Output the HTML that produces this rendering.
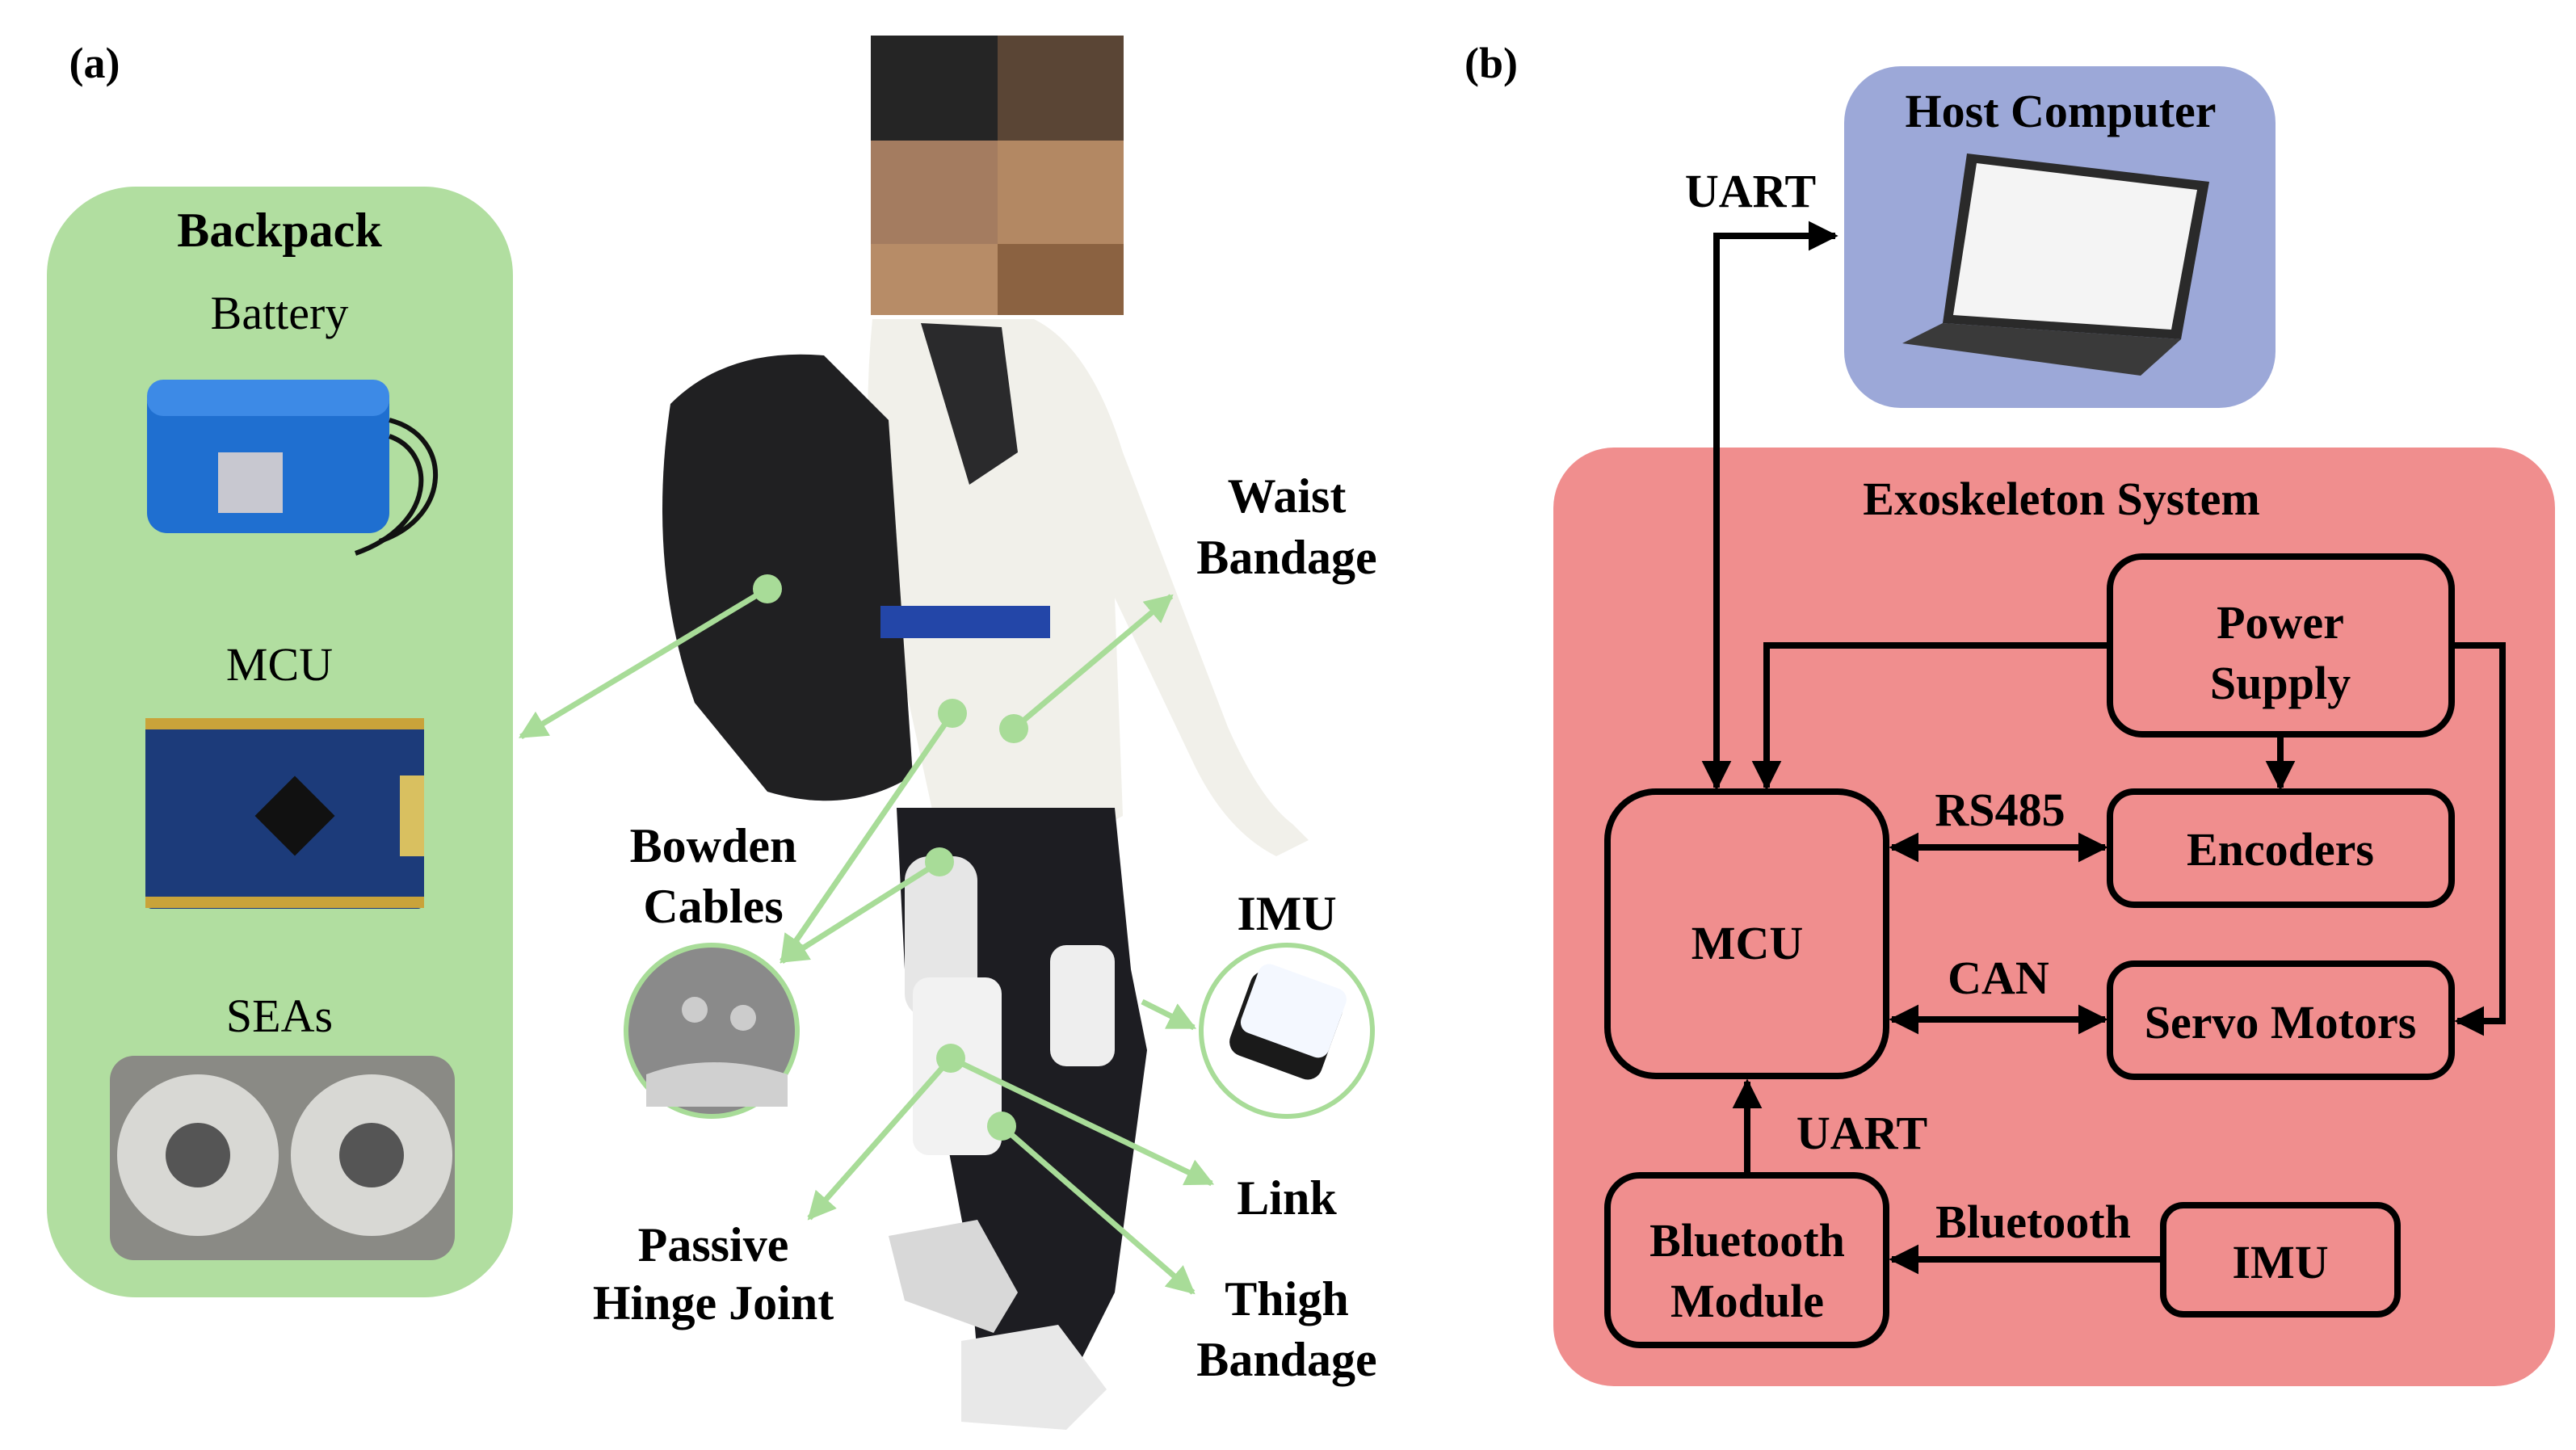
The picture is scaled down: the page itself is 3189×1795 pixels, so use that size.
<!DOCTYPE html>
<html><head><meta charset="utf-8"><style>
html,body{margin:0;padding:0;background:#fff;}
svg{display:block;}
text{font-family:"Liberation Serif",serif;fill:#000;}
.b{font-weight:bold;}
</style></head><body>
<svg width="3189" height="1795" viewBox="0 0 3189 1795" xmlns="http://www.w3.org/2000/svg">
<defs>
<marker id="ah" viewBox="0 0 10 10" refX="9" refY="5" markerWidth="4.6" markerHeight="4.6" orient="auto-start-reverse"><path d="M0,0 L10,5 L0,10 z" fill="#000"/></marker>
<marker id="gh" viewBox="0 0 10 10" refX="9" refY="5" markerWidth="5" markerHeight="5" orient="auto"><path d="M0,0 L10,5 L0,10 z" fill="#a8dc98"/></marker>
</defs>
<text x="117" y="96" class="b" font-size="54" text-anchor="middle">(a)</text>
<text x="1846" y="96" class="b" font-size="54" text-anchor="middle">(b)</text>

<!-- left green panel -->
<rect x="58" y="231" width="577" height="1375" rx="110" fill="#b1dea0"/>
<text x="346" y="305" class="b" font-size="60" text-anchor="middle">Backpack</text>
<text x="346" y="407" font-size="58" text-anchor="middle">Battery</text>
<text x="346" y="842" font-size="58" text-anchor="middle">MCU</text>
<text x="346" y="1277" font-size="58" text-anchor="middle">SEAs</text>
<!-- battery -->
<rect x="182" y="470" width="300" height="190" rx="25" fill="#1f6fd0"/>
<rect x="182" y="470" width="300" height="45" rx="20" fill="#3d8ae6"/>
<rect x="270" y="560" width="80" height="75" fill="#c8c8d0"/>
<path d="M482,520 C560,540 560,640 470,670" stroke="#111" stroke-width="6" fill="none"/>
<path d="M482,540 C540,560 540,650 440,685" stroke="#111" stroke-width="6" fill="none"/>
<!-- MCU board -->
<rect x="180" y="889" width="345" height="236" rx="8" fill="#1c3b7a"/>
<rect x="330" y="975" width="70" height="70" fill="#111" transform="rotate(45 365 1010)"/>
<rect x="180" y="889" width="345" height="14" fill="#c9a33a"/>
<rect x="180" y="1110" width="345" height="14" fill="#c9a33a"/>
<rect x="495" y="960" width="30" height="100" fill="#d9c060"/>
<!-- SEAs -->
<rect x="136" y="1307" width="427" height="253" rx="30" fill="#8a8a85"/>
<circle cx="245" cy="1430" r="100" fill="#d8d8d4"/><circle cx="245" cy="1430" r="40" fill="#555"/>
<circle cx="460" cy="1430" r="100" fill="#d8d8d4"/><circle cx="460" cy="1430" r="40" fill="#555"/>

<!-- face blur -->
<rect x="1078" y="44" width="157" height="130" fill="#252525"/>
<rect x="1235" y="44" width="156" height="130" fill="#5a4535"/>
<rect x="1078" y="174" width="157" height="128" fill="#a47c60"/>
<rect x="1235" y="174" width="156" height="128" fill="#b38863"/>
<rect x="1078" y="302" width="157" height="88" fill="#b78c67"/>
<rect x="1235" y="302" width="156" height="88" fill="#8b6241"/>
<!-- person rough -->
<path d="M1080,395 L1280,395 Q1350,430 1390,560 L1520,900 Q1560,990 1600,1020 L1620,1040 L1580,1060 Q1520,1030 1480,950 L1380,740 L1390,1010 Q1300,1060 1160,1030 L1110,800 Q1060,600 1080,395 Z" fill="#f1f0ea"/>
<path d="M1110,1000 L1380,1000 L1400,1200 L1420,1300 L1380,1600 L1340,1680 L1210,1680 L1200,1560 L1170,1400 L1120,1200 Z" fill="#1d1d22"/>
<path d="M1190,1660 L1310,1640 L1370,1720 L1320,1770 L1190,1760 Z" fill="#e8e8e8"/>
<path d="M1100,1530 L1210,1510 L1260,1600 L1230,1650 L1120,1610 Z" fill="#d8d8d8"/>
<path d="M830,500 Q900,430 1020,440 L1100,520 L1130,960 Q1050,1010 950,980 L860,870 Q800,700 830,500 Z" fill="#202022"/>
<path d="M1140,400 L1240,405 L1260,560 L1200,600 Z" fill="#2a2a2c"/>
<rect x="1090" y="750" width="210" height="40" fill="#2346a8"/>
<rect x="1120" y="1060" width="90" height="200" rx="30" fill="#e6e6e6"/>
<rect x="1130" y="1210" width="110" height="220" rx="20" fill="#f2f2f2"/>
<rect x="1300" y="1170" width="80" height="150" rx="20" fill="#eee"/>

<!-- green connectors -->
<g stroke="#a8dc98" stroke-width="7" fill="none">
<line x1="950" y1="729" x2="645" y2="912" marker-end="url(#gh)"/>
<line x1="1255" y1="902" x2="1450" y2="738" marker-end="url(#gh)"/>
<line x1="1179" y1="883" x2="968" y2="1190" marker-end="url(#gh)"/>
<line x1="1163" y1="1067" x2="968" y2="1190" marker-end="url(#gh)"/>
<line x1="1177" y1="1310" x2="1002" y2="1508" marker-end="url(#gh)"/>
<line x1="1177" y1="1310" x2="1500" y2="1465" marker-end="url(#gh)"/>
<line x1="1240" y1="1394" x2="1477" y2="1600" marker-end="url(#gh)"/>
<line x1="1414" y1="1240" x2="1478" y2="1272" marker-end="url(#gh)"/>
</g>
<g fill="#a8dc98">
<circle cx="950" cy="729" r="18"/><circle cx="1255" cy="902" r="18"/><circle cx="1179" cy="883" r="18"/>
<circle cx="1163" cy="1067" r="18"/><circle cx="1177" cy="1310" r="18"/><circle cx="1240" cy="1394" r="18"/>
</g>
<circle cx="881" cy="1276" r="106" fill="#8a8a8a" stroke="#a8dc98" stroke-width="6"/>
<path d="M800,1330 Q880,1300 975,1330 L975,1370 L800,1370 Z" fill="#d0d0d0"/>
<circle cx="860" cy="1250" r="16" fill="#ccc"/><circle cx="920" cy="1260" r="16" fill="#ccc"/>
<circle cx="1593" cy="1276" r="106" fill="#fff" stroke="#a8dc98" stroke-width="6"/>
<rect x="1530" y="1215" width="120" height="110" rx="18" fill="#1a1a1a" transform="rotate(20 1593 1276)"/>
<rect x="1535" y="1205" width="115" height="90" rx="14" fill="#f4f8ff" transform="rotate(20 1593 1276)"/>
<g class="b" font-size="60" text-anchor="middle">
<text x="1593" y="634" class="b">Waist</text><text x="1593" y="710" class="b">Bandage</text>
<text x="883" y="1067" class="b">Bowden</text><text x="883" y="1142" class="b">Cables</text>
<text x="1593" y="1151" class="b">IMU</text>
<text x="1593" y="1503" class="b">Link</text>
<text x="883" y="1561" class="b">Passive</text><text x="883" y="1633" class="b">Hinge Joint</text>
<text x="1593" y="1628" class="b">Thigh</text><text x="1593" y="1703" class="b">Bandage</text>
</g>

<!-- right panel -->
<rect x="2283" y="82" width="534" height="423" rx="70" fill="#9ca8d8"/>
<text x="2551" y="157" class="b" font-size="58" text-anchor="middle">Host Computer</text>
<path d="M2435,190 L2735,225 L2700,420 L2405,400 Z" fill="#2a2a2a"/>
<path d="M2447,202 L2720,235 L2688,408 L2418,390 Z" fill="#f4f4f4"/>
<path d="M2405,400 L2700,420 L2650,465 L2355,425 Z" fill="#3a3a3a"/>

<rect x="1923" y="554" width="1240" height="1162" rx="75" fill="#f08e8e"/>
<text x="2552" y="637" class="b" font-size="58" text-anchor="middle">Exoskeleton System</text>

<g fill="none" stroke="#000" stroke-width="8">
<rect x="1990" y="980" width="345" height="352" rx="60"/>
<rect x="2612" y="689" width="423" height="220" rx="40"/>
<rect x="2612" y="980" width="423" height="140" rx="30"/>
<rect x="2612" y="1193" width="423" height="140" rx="30"/>
<rect x="1990" y="1455" width="345" height="210" rx="40"/>
<rect x="2678" y="1492" width="290" height="135" rx="25"/>
</g>
<g fill="none" stroke="#000" stroke-width="8">
<polyline points="2125,975 2125,292 2272,292" marker-start="url(#ah)" marker-end="url(#ah)"/>
<polyline points="2612,799 2187,799 2187,975" marker-end="url(#ah)"/>
<polyline points="3035,799 3098,799 3098,1264 3042,1264" marker-end="url(#ah)"/>
<line x1="2823" y1="909" x2="2823" y2="975" marker-end="url(#ah)"/>
<line x1="2342" y1="1049" x2="2606" y2="1049" marker-start="url(#ah)" marker-end="url(#ah)"/>
<line x1="2342" y1="1262" x2="2606" y2="1262" marker-start="url(#ah)" marker-end="url(#ah)"/>
<line x1="2163" y1="1455" x2="2163" y2="1339" marker-end="url(#ah)"/>
<line x1="2678" y1="1559" x2="2342" y2="1559" marker-end="url(#ah)"/>
</g>
<g font-size="58" text-anchor="middle">
<text x="2167" y="256" class="b">UART</text>
<text x="2823" y="790" class="b">Power</text>
<text x="2823" y="865" class="b">Supply</text>
<text x="2823" y="1071" class="b">Encoders</text>
<text x="2823" y="1285" class="b">Servo Motors</text>
<text x="2163" y="1187" class="b">MCU</text>
<text x="2163" y="1555" class="b">Bluetooth</text>
<text x="2163" y="1630" class="b">Module</text>
<text x="2823" y="1582" class="b">IMU</text>
<text x="2476" y="1022" class="b">RS485</text>
<text x="2474" y="1230" class="b">CAN</text>
<text x="2305" y="1422" class="b">UART</text>
<text x="2517" y="1532" class="b">Bluetooth</text>
</g>
</svg>
</body></html>
